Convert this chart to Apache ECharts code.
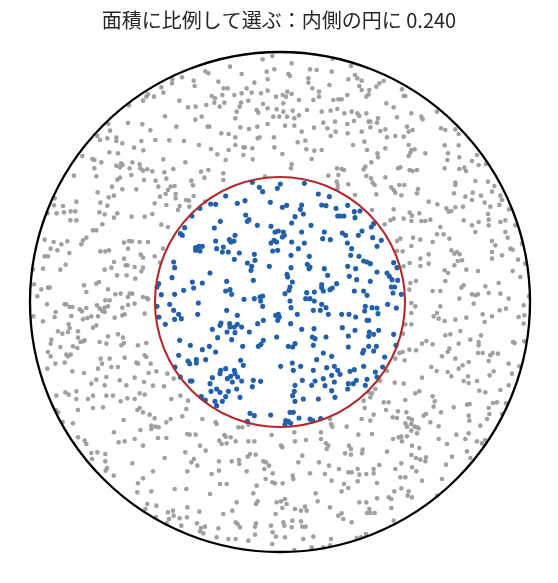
<!DOCTYPE html>
<html><head><meta charset="utf-8">
<script src="https://cdn.jsdelivr.net/npm/echarts@6/dist/echarts.min.js"></script>
<style>html,body{margin:0;padding:0;background:#fff}#c{width:558px;height:583px}</style>
</head><body><div id="c"></div>
<script>
const titleText = '面積に比例して選ぶ：内側の円に 0.240';
const outerRadius = 750;
const innerRadius = 375;
// points outside the inner circle (gray)
const outerPts = [
[-323,668],[-324,656],[-294,674],[-259,664],[-256,648],[-356,644],[-350,628],[-396,623],[-401,616],[-378,616],[-411,604],[-302,604],[-453,590],[-276,584],[-253,586],[-345,557],[-254,547],[-456,537],[-413,533],[-515,534],[-311,526],[-389,515],[-510,514],[-548,498],[-540,486],[-518,491],[-491,493],[-491,483],[-473,476],[-416,483],[-374,486],[-332,485],[-288,483],[-438,463],[-410,455],[-512,449],[-486,446],[-593,438],[-563,429],[-557,426],[-536,419],[-350,428],[-284,419],[-491,409],[-477,416],[-472,411],[-480,404],[-443,419],[-421,413],[-451,401],[-419,401],[-411,394],[-398,398],[-383,392],[-347,389],[-320,399],[-557,401],[-618,379],[-551,377],[-446,381],[-488,367],[-480,373],[-408,366],[-373,364],[-341,370],[-365,346],[-328,346],[-316,348],[-336,336],[-343,324],[-360,316],[-266,364],[-261,350],[-547,329],[-514,314],[-498,319],[-431,338],[-473,338],[-504,346],[-539,298],[-518,289],[-611,301],[-676,311],[-678,290],[-651,288],[-648,269],[-628,272],[-614,272],[-670,266],[-697,266],[-542,269],[-526,263],[-488,266],[-498,253],[-445,256],[-406,256],[-383,264],[-376,296],[-341,291],[-313,311],[-313,324],[-282,306],[-273,304],[-259,318],[-301,288],[-272,286],[-306,276],
[-23,738],[-52,728],[35,716],[158,730],[213,708],[-150,706],[-224,692],[-215,686],[-115,684],[-40,691],[-17,698],[25,684],[30,678],[90,698],[110,696],[155,691],[225,681],[232,671],[245,664],[238,648],[-185,661],[-169,641],[-157,641],[-77,658],[-100,641],[-37,668],[-37,634],[85,671],[85,658],[97,641],[117,631],[148,651],[205,668],[245,636],[-205,618],[-195,611],[-197,598],[-173,621],[-137,621],[-115,626],[-85,628],[-57,626],[-12,616],[22,631],[8,621],[18,616],[35,624],[57,606],[100,606],[117,616],[160,606],[175,608],[185,608],[202,621],[-221,591],[-181,586],[-167,598],[-117,598],[-95,604],[-121,586],[-130,571],[-70,576],[-65,568],[-51,594],[-37,581],[-10,578],[10,596],[10,571],[38,574],[81,576],[125,571],[152,574],[172,579],[193,566],[215,571],[232,566],[238,558],[-235,556],[-134,551],[-20,556],[-2,556],[21,556],[43,551],[57,560],[130,538],[142,521],[165,541],[202,534],[222,543],[-217,526],[-212,526],[-176,506],[-154,504],[-119,524],[-93,519],[-68,526],[-37,534],[15,529],[43,529],[102,523],[167,511],[203,506],[245,511],[-243,471],[-207,459],[-163,426],[-154,456],[-134,494],[-134,471],[-110,464],[-105,464],[-110,441],[-83,461],[-82,428],[-67,491],[-61,494],[-18,494],[-17,464],[7,444],[53,479],[65,511],[76,484],[79,458],[103,454],[125,456],[152,498],[219,471],[95,429],[-237,391],[-215,396],[-227,373],[-170,386],[-170,366],[-188,443],[-45,376],[35,413],[33,401],[171,401],[185,399],[192,396],[175,381],[145,379],[170,361],[173,351],[173,341],[205,353],[225,321],[-225,301],
[311,663],[298,656],[289,646],[268,636],[266,623],[259,616],[366,638],[371,618],[376,618],[319,596],[341,584],[259,566],[394,566],[424,556],[428,548],[471,571],[266,541],[271,541],[291,538],[294,551],[271,524],[351,554],[381,526],[386,511],[398,516],[301,513],[316,518],[321,494],[346,498],[371,496],[483,521],[496,516],[526,518],[536,504],[253,481],[261,456],[316,461],[386,471],[394,456],[404,458],[391,448],[386,438],[436,446],[494,470],[536,470],[504,446],[502,426],[538,434],[576,423],[591,441],[596,411],[618,414],[292,446],[294,434],[274,419],[256,406],[251,398],[354,401],[361,404],[389,396],[398,393],[411,396],[494,401],[538,399],[553,403],[558,393],[259,378],[273,371],[278,358],[284,351],[316,374],[358,351],[373,351],[334,344],[341,336],[346,328],[364,320],[289,323],[414,339],[411,326],[526,358],[526,351],[586,363],[624,361],[643,348],[636,331],[661,319],[666,306],[522,326],[556,316],[578,328],[576,306],[614,298],[603,319],[446,301],[472,293],[499,281],[506,271],[514,273],[526,284],[549,286],[631,286],[658,291],[687,278],[276,276],[341,278],[389,268],[396,259],[418,266],[624,264],
[-629,245],[-611,245],[-533,233],[-356,232],[-336,225],[-561,215],[-551,215],[-581,193],[-591,185],[-596,173],[-706,187],[-679,180],[-656,173],[-638,182],[-688,160],[-668,155],[-632,147],[-539,152],[-524,152],[-513,155],[-468,178],[-453,183],[-444,182],[-421,180],[-396,180],[-456,160],[-418,142],[-411,133],[-376,137],[-351,160],[-741,98],[-711,100],[-706,137],[-696,137],[-659,97],[-643,112],[-526,97],[-498,120],[-506,103],[-489,80],[-468,130],[-463,110],[-458,110],[-436,105],[-411,103],[-416,92],[-460,80],[-434,70],[-360,118],[-738,53],[-716,38],[-696,43],[-691,43],[-588,50],[-551,55],[-543,60],[-516,38],[-581,30],[-494,23],[-478,25],[-456,15],[-451,25],[-443,25],[-411,15],[-399,12],[-728,17],[-740,-43],[-699,-7],[-646,-7],[-641,-7],[-631,-15],[-623,-15],[-601,-22],[-594,-28],[-581,-18],[-549,-10],[-541,-20],[-526,-17],[-516,-13],[-524,5],[-511,5],[-473,-17],[-456,-9],[-436,-5],[-396,8],[-673,-30],[-676,-45],[-626,-42],[-591,-52],[-578,-48],[-566,-43],[-546,-43],[-533,-27],[-526,-30],[-496,-47],[-473,-40],[-466,-37],[-406,-35],[-711,-58],[-634,-67],[-631,-78],[-551,-70],[-561,-77],[-666,-88],[-653,-95],[-636,-90],[-606,-88],[-606,-107],[-586,-115],[-599,-120],[-591,-118],[-516,-103],[-486,-97],[-471,-107],[-468,-123],[-476,-130],[-521,-125],[-541,-120],[-686,-113],[-688,-125],[-659,-135],[-621,-133],[-608,-138],[-426,-130],[-401,-123],[-641,-158],[-636,-163],[-628,-158],[-696,-150],[-688,-163],[-674,-185],[-646,-182],[-538,-170],[-534,-185],[-506,-195],[-486,-195],[-511,-170],[-466,-167],[-431,-182],[-426,-185],[-406,-160],[-401,-165],[-388,-185],[-371,-208],[-394,-213],[-408,-240],[-338,-215],[-319,-230],[-698,-200],[-623,-208],[-588,-213],[-546,-200],[-521,-225],[-551,-233],[-481,-235],[-461,-250],[-436,-227],[-566,-245],[-348,-253],[-526,-250],
[314,233],[331,245],[341,250],[371,250],[394,243],[424,243],[436,243],[451,247],[481,225],[551,245],[576,230],[596,240],[626,247],[661,240],[676,245],[706,230],[351,183],[361,190],[399,193],[421,187],[458,180],[471,203],[491,203],[508,190],[586,210],[626,230],[636,183],[646,170],[676,210],[683,193],[726,175],[691,160],[698,157],[351,153],[368,152],[394,168],[371,107],[389,117],[421,130],[421,108],[446,143],[446,115],[494,95],[514,155],[523,145],[531,150],[539,143],[546,125],[533,123],[523,110],[559,97],[504,87],[636,150],[636,130],[666,140],[594,93],[656,57],[698,93],[714,127],[721,75],[736,115],[391,57],[408,63],[388,37],[458,33],[481,33],[496,63],[544,43],[551,50],[538,10],[576,23],[586,20],[594,23],[616,47],[626,27],[661,25],[678,-20],[686,10],[731,-10],[747,17],[394,-3],[406,-13],[394,-33],[481,-13],[461,-43],[471,-33],[476,-50],[494,-57],[526,-53],[541,-87],[559,-47],[581,-5],[608,-37],[614,-60],[636,-43],[659,-25],[716,-45],[733,-40],[731,-65],[369,-95],[376,-67],[394,-67],[426,-125],[439,-117],[458,-127],[496,-100],[511,-97],[508,-140],[503,-150],[536,-125],[571,-113],[603,-100],[596,-120],[596,-130],[594,-153],[608,-153],[631,-160],[638,-153],[654,-155],[699,-120],[704,-123],[733,-118],[358,-153],[368,-150],[388,-143],[408,-145],[346,-170],[374,-175],[486,-163],[526,-170],[548,-190],[566,-180],[454,-195],[470,-207],[503,-210],[514,-223],[536,-200],[564,-223],[626,-177],[641,-208],[629,-220],[686,-185],[696,-215],[718,-193],[300,-236],[321,-207],[344,-242],[371,-245],[426,-227],[551,-237],[566,-243],[591,-237],[686,-250],
[-671,-281],[-644,-271],[-634,-278],[-611,-268],[-611,-291],[-576,-291],[-561,-281],[-521,-281],[-501,-281],[-478,-298],[-458,-289],[-436,-291],[-421,-274],[-406,-278],[-381,-251],[-326,-291],[-299,-281],[-276,-296],[-606,-324],[-561,-318],[-531,-316],[-469,-354],[-428,-324],[-421,-318],[-411,-331],[-391,-338],[-376,-349],[-364,-376],[-386,-371],[-386,-381],[-374,-374],[-341,-361],[-328,-351],[-293,-343],[-281,-321],[-278,-396],[-271,-398],[-253,-398],[-672,-324],[-666,-331],[-652,-360],[-621,-364],[-606,-406],[-586,-416],[-581,-426],[-498,-391],[-484,-421],[-466,-418],[-436,-411],[-419,-384],[-411,-431],[-366,-408],[-341,-408],[-346,-468],[-284,-451],[-266,-481],[-258,-471],[-248,-491],[-278,-508],[-566,-453],[-548,-451],[-564,-471],[-524,-456],[-524,-478],[-519,-498],[-523,-506],[-499,-521],[-443,-484],[-381,-508],[-411,-529],[-426,-544],[-428,-571],[-386,-568],[-316,-561],[-281,-561],[-398,-606],[-404,-621],[-371,-611],[-336,-631],[-321,-626],[-319,-641],[-333,-651],[-301,-649],[-279,-646],[-278,-616],[-249,-664],[-296,-671],[-340,-664],[-372,-645],
[-233,-351],[-193,-361],[-190,-366],[-125,-376],[-113,-376],[-95,-368],[-182,-416],[-167,-399],[-163,-404],[-148,-406],[-175,-426],[-160,-424],[-133,-418],[-95,-418],[-77,-418],[-25,-399],[3,-431],[7,-436],[43,-391],[45,-418],[78,-414],[123,-391],[123,-411],[138,-424],[145,-431],[150,-351],[153,-366],[157,-374],[200,-374],[235,-398],[245,-351],[207,-431],[213,-441],[213,-458],[248,-443],[-240,-431],[-223,-446],[-183,-478],[-183,-506],[-145,-478],[-123,-474],[-97,-464],[-90,-456],[-73,-458],[-50,-478],[-42,-481],[-47,-501],[-22,-514],[-33,-491],[-100,-508],[-15,-544],[8,-544],[38,-521],[40,-531],[55,-481],[67,-461],[90,-514],[117,-481],[135,-516],[147,-491],[177,-501],[205,-511],[215,-511],[233,-501],[238,-518],[233,-538],[205,-558],[192,-546],[185,-568],[155,-536],[107,-574],[113,-598],[75,-614],[80,-626],[63,-626],[45,-621],[15,-591],[20,-606],[7,-618],[-10,-601],[3,-598],[-13,-636],[10,-661],[13,-671],[-22,-691],[-12,-704],[15,-706],[37,-656],[35,-676],[63,-658],[67,-674],[77,-674],[100,-704],[153,-711],[150,-616],[185,-634],[190,-651],[175,-641],[215,-661],[238,-601],[243,-706],[230,-708],[-242,-629],[-205,-516],[-210,-576],[-180,-546],[-160,-546],[-70,-551],[-80,-574],[-67,-598],[-72,-606],[-130,-601],[-143,-626],[-170,-636],[-237,-678],[-225,-674],[-240,-688],[-230,-694],[-185,-679],[-133,-661],[-127,-666],[-120,-676],[-75,-674],[-72,-664],[-27,-671],[-75,-698],[-155,-711],[-133,-711],[-190,-706],[-95,-716],[130,-736],[150,-730],[70,-711],[95,-736],[-23,-726],[43,-744],[-43,-531],[-23,-541],[-122,-486],[195,-454],[140,-441],
[266,-271],[276,-274],[251,-296],[271,-286],[254,-318],[286,-261],[311,-301],[326,-301],[376,-294],[406,-274],[418,-268],[458,-283],[464,-298],[461,-314],[318,-324],[354,-328],[379,-331],[338,-346],[351,-348],[281,-338],[271,-356],[386,-348],[396,-353],[376,-364],[381,-374],[394,-366],[404,-374],[411,-376],[416,-379],[394,-386],[411,-394],[451,-361],[476,-373],[431,-341],[438,-336],[483,-331],[521,-316],[561,-308],[569,-306],[566,-341],[568,-356],[601,-371],[621,-351],[628,-336],[626,-318],[639,-303],[651,-301],[678,-304],[666,-336],[598,-266],[616,-271],[661,-264],[276,-396],[339,-411],[356,-406],[364,-404],[381,-403],[366,-418],[396,-431],[418,-438],[501,-426],[476,-411],[529,-398],[556,-411],[566,-394],[591,-418],[606,-424],[616,-414],[246,-454],[321,-449],[394,-459],[408,-468],[421,-473],[438,-466],[436,-478],[516,-464],[561,-448],[571,-468],[498,-488],[486,-531],[426,-536],[298,-489],[281,-501],[281,-514],[259,-516],[291,-543],[346,-501],[364,-484],[361,-526],[376,-526],[396,-496],[409,-508],[343,-568],[364,-559],[386,-568],[383,-581],[396,-586],[326,-586],[334,-591],[291,-589],[259,-601],[268,-621],[271,-633],[261,-633],[284,-633],[334,-618],[341,-656],[471,-581],[258,-696]
];
// points inside the inner circle (blue)
const innerPts = [
[-264,258],[-83,359],[-62,344],[-52,331],[1,354],[-8,341],[73,356],[115,324],[148,316],[-163,318],[-240,281],[-208,294],[-193,293],[-128,296],[-105,304],[-29,299],[7,284],[20,290],[65,291],[61,278],[45,256],[125,291],[138,289],[168,281],[203,290],[173,258],[181,258],[192,258],[223,271],[240,273],[-103,261],[70,264],
[-286,223],[-299,205],[-293,200],[-253,163],[-253,155],[-319,120],[-316,103],[-324,73],[-364,55],[-369,45],[-356,22],[-316,23],[-289,35],[-263,60],[-259,42],[-369,-13],[-331,-7],[-319,-25],[-304,-37],[-316,-52],[-296,-50],[-363,-45],[-344,-67],[-301,-115],[-269,-130],[-304,-160],[-276,-177],[-271,-185],[-251,-173],[-251,-183],[-315,-195],[-299,-225],[-269,-237],[-264,-237],
[-179,242],[-98,242],[-93,247],[-68,230],[-27,227],[35,237],[93,230],[225,253],[-197,222],[-135,200],[-152,187],[-147,180],[-138,183],[-193,183],[-190,160],[-170,165],[-173,150],[-155,150],[-122,147],[-137,128],[-243,167],[-233,167],[-240,153],[-210,87],[-233,57],[-15,210],[-5,213],[10,210],[13,200],[7,195],[-18,185],[-27,177],[-10,180],[65,210],[133,210],[128,190],[151,187],[187,207],[197,200],[235,200],[35,180],[73,177],[55,160],[-7,155],[-22,153],[33,140],[88,137],[82,113],[90,105],[87,100],[33,103],[-32,107],[-77,143],[-75,125],[-98,117],[-85,107],[-87,95],[-80,65],[-160,62],[-150,37],[-145,23],[-163,33],[-108,8],[-77,10],[-60,15],[-52,18],[-58,3],[-52,-13],[202,177],[215,160],[212,140],[237,137],[203,107],[227,100],[208,77],[230,67],[133,100],[143,80],[21,83],[23,75],[37,60],[30,45],[27,35],[15,25],[80,28],[103,30],[125,52],[125,43],[130,33],[150,37],[157,42],[170,55],[223,33],[77,10],[90,10],[103,3],[30,3],[33,-17],[-13,-40],[-5,-37],[-2,-45],[-7,-55],[52,-37],[125,-7],[138,-17],[121,-25],[145,-37],[100,-25],[185,-37],[207,-37],[227,-45],[-245,-3],[-247,-37],[-160,-25],[-128,-40],[-177,-63],[-180,-70],[-203,-82],[-151,-65],[-150,-75],[-137,-75],[-128,-67],[-115,-75],[-159,-90],[-135,-92],[-67,-65],[-50,-55],[32,-65],[65,-82],[102,-80],[-92,-90],[-10,-105],[-187,-107],[-145,-113],[97,-105],[105,-110],[100,-130],[138,-105],[187,-77],[225,-85],[205,-102],[205,-135],[-212,-133],[-233,-143],[-193,-150],[-50,-115],[-57,-127],[-65,-133],[-112,-133],[25,-133],[38,-135],[45,-125],[-223,-173],[-118,-175],[-110,-190],[-178,-205],[-180,-215],[-163,-200],[-137,-205],[-135,-215],[-148,-223],[-143,-240],[-127,-225],[-115,-237],[-203,-227],[-210,-245],[-158,-230],[-80,-235],[-58,-238],[2,-193],[37,-183],[40,-205],[62,-193],[100,-205],[67,-235],[95,-250],[45,-250],[105,-237],[130,-230],[110,-173],[130,-153],[155,-163],[140,-197],[163,-193],[173,-205],[180,-217],[163,-240],[155,-220],[223,-203],[210,-208],[229,-235],[220,-245],[205,-245],[248,-153],
[281,235],[274,225],[246,213],[278,193],[304,185],[291,167],[251,123],[261,120],[271,115],[341,118],[351,103],[291,90],[321,87],[328,77],[336,67],[353,65],[344,45],[334,45],[271,62],[251,33],[261,20],[364,23],[339,27],[323,-7],[349,-18],[291,-18],[276,-17],[256,-13],[254,-27],[294,-35],[261,-55],[266,-55],[296,-85],[268,-90],[266,-103],[281,-97],[341,-97],[348,-130],[266,-133],[289,-133],[251,-145],[281,-147],[314,-165],[251,-193],[286,-210],[308,-195],[261,-232],[291,-225],[256,-250],
[-207,-268],[-190,-261],[-180,-271],[-155,-268],[-130,-261],[-163,-284],[-120,-286],[-236,-284],[-224,-294],[-195,-298],[-190,-311],[-173,-298],[-83,-254],[-90,-334],[-77,-341],[-28,-339],[30,-331],[40,-331],[57,-348],[90,-351],[122,-350],[98,-356],[17,-356],[25,-358],[32,-364],[15,-368],[43,-268],[38,-281],[70,-291],[45,-298],[115,-291],[135,-251],[155,-266],[165,-286],[203,-261],[-98,-358]
];
const circles = [
  {name: 'outer', radius: outerRadius, color: '#000000', width: 2.3},
  {name: 'inner', radius: innerRadius, color: '#b2292b', width: 2.1}
];

const chart = echarts.init(document.getElementById('c'), null, {renderer: 'canvas'});
const circleSeries = circles.map(c => ({
  type: 'custom',
  name: c.name,
  coordinateSystem: 'cartesian2d',
  clip: false,
  silent: true,
  z: 5,
  data: [[0, 0, c.radius]],
  renderItem: function (params, api) {
    const center = api.coord([api.value(0), api.value(1)]);
    const sz = api.size([api.value(2), api.value(2)]);
    return {
      type: 'circle',
      shape: {cx: center[0], cy: center[1], r: sz[0]},
      style: {fill: 'none', stroke: c.color, lineWidth: c.width}
    };
  }
}));

chart.setOption({
  animation: false,
  backgroundColor: '#ffffff',
  title: {
    text: titleText,
    left: 'center',
    top: 5,
    textStyle: {fontFamily: 'Noto Sans CJK JP', fontSize: 20, fontWeight: 'normal', color: '#262626'}
  },
  grid: {left: 30, top: 52, width: 500, height: 500},
  xAxis: {type: 'value', min: -outerRadius, max: outerRadius, show: false},
  yAxis: {type: 'value', min: -outerRadius, max: outerRadius, show: false},
  series: [
    {type: 'scatter', name: 'outside', data: outerPts, symbolSize: 4.6, clip: false, z: 2,
     itemStyle: {color: '#9b9b9b', opacity: 0.95}},
    {type: 'scatter', name: 'inside', data: innerPts, symbolSize: 5.1, clip: false, z: 3,
     itemStyle: {color: '#2260ab', opacity: 1}}
  ].concat(circleSeries)
});
</script>
</body></html>
